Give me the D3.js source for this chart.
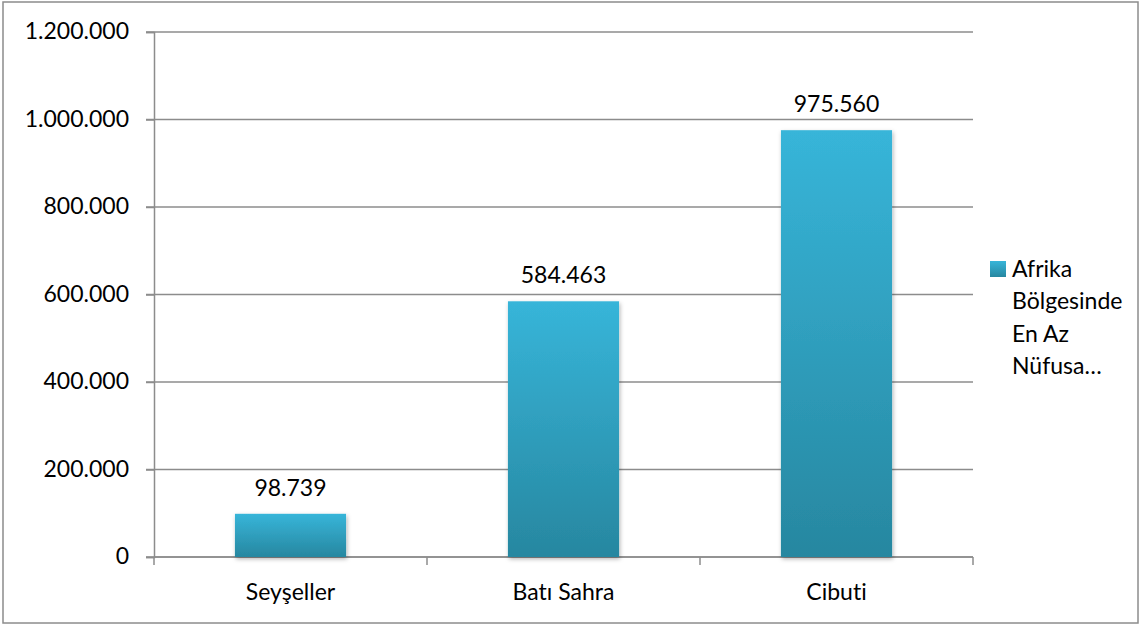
<!DOCTYPE html>
<html>
<head>
<meta charset="utf-8">
<script src="https://cdn.jsdelivr.net/npm/d3@7"></script>
<style>
  body { margin: 0; background: #fff; }
  text { font-family: Lato, "Open Sans", sans-serif; fill: #000; font-variant-ligatures: none; font-feature-settings: "liga" 0; }
</style>
</head>
<body>
<div id="chart"></div>
<script>
// Data
const categories = ["Seyşeller", "Batı Sahra", "Cibuti"];
const values = [98739, 584463, 975560];
const yTicks = [0, 200000, 400000, 600000, 800000, 1000000, 1200000];
const legendLines = ["Afrika", "Bölgesinde", "En Az", "Nüfusa…"];

const W = 1141, H = 625;
const margin = { top: 32, right: 168, bottom: 68, left: 154 },
    width = W - margin.left - margin.right,
    height = H - margin.top - margin.bottom;
const fontSize = 23;

const fmt = d3.formatLocale({ decimal: ",", thousands: ".", grouping: [3], currency: ["", ""] }).format(",d");

const root = d3.select("#chart").append("svg")
    .attr("width", W)
    .attr("height", H);

// gradient + shadow
const defs = root.append("defs");
const grad = defs.append("linearGradient")
    .attr("id", "barGrad")
    .attr("x1", 0).attr("y1", 0).attr("x2", 0).attr("y2", 1);
grad.append("stop").attr("offset", "0%").attr("stop-color", "#37b5d9");
grad.append("stop").attr("offset", "100%").attr("stop-color", "#2787a0");

const shadow = defs.append("filter").attr("id", "shadow")
    .attr("x", "-10%").attr("y", "-10%").attr("width", "130%").attr("height", "130%");
shadow.append("feDropShadow")
    .attr("dx", 1).attr("dy", 2).attr("stdDeviation", 2)
    .attr("flood-color", "#000").attr("flood-opacity", 0.3);

// outer frame
root.append("rect")
    .attr("x", 3).attr("y", 2)
    .attr("width", 1135).attr("height", 621)
    .attr("fill", "none")
    .attr("stroke", "#8c8c8c")
    .attr("stroke-width", 1.5);

const svg = root.append("g")
    .attr("transform", `translate(${margin.left},${margin.top})`);

const xScale = d3.scaleBand()
    .domain(categories)
    .range([0, width])
    .paddingInner(0.593)
    .paddingOuter(0.2965);

const yScale = d3.scaleLinear()
    .domain([0, 1200000])
    .range([height, 0]);

// gridlines
svg.append("g")
    .selectAll("line")
    .data(yTicks)
    .enter().append("line")
    .attr("x1", -8)
    .attr("x2", width)
    .attr("y1", d => yScale(d))
    .attr("y2", d => yScale(d))
    .attr("stroke", "#8c8c8c")
    .attr("stroke-width", 1.5);

// y axis
const yAxis = svg.append("g")
    .call(d3.axisLeft(yScale).tickValues(yTicks).tickFormat(fmt).tickSize(8).tickPadding(17));
yAxis.select(".domain").attr("stroke", "#8c8c8c").attr("stroke-width", 1.5);
yAxis.selectAll(".tick line").attr("stroke", "#8c8c8c").attr("stroke-width", 1.5);
yAxis.selectAll("text").attr("font-size", fontSize).attr("fill", "#000")
    .attr("font-family", "Lato, 'Open Sans', sans-serif").attr("dy", "0.3em");

// x axis: ticks at band boundaries
const xAxisG = svg.append("g")
    .attr("transform", `translate(0,${height})`);
xAxisG.append("line")
    .attr("x1", 0).attr("x2", width)
    .attr("stroke", "#8c8c8c").attr("stroke-width", 1.5);
const step = xScale.step();
xAxisG.selectAll(".xtick")
    .data(d3.range(categories.length + 1))
    .enter().append("line")
    .attr("class", "xtick")
    .attr("x1", i => xScale(categories[0]) - xScale.paddingOuter() * step + i * step)
    .attr("x2", i => xScale(categories[0]) - xScale.paddingOuter() * step + i * step)
    .attr("y1", 0).attr("y2", 8)
    .attr("stroke", "#8c8c8c").attr("stroke-width", 1.5);
xAxisG.selectAll(".xlabel")
    .data(categories)
    .enter().append("text")
    .attr("class", "xlabel")
    .attr("x", d => xScale(d) + xScale.bandwidth() / 2)
    .attr("y", 43)
    .attr("text-anchor", "middle")
    .attr("font-size", fontSize)
    .text(d => d);

// bars
svg.selectAll(".bar")
    .data(values)
    .enter().append("rect")
    .attr("class", "bar")
    .attr("x", (d, i) => xScale(categories[i]))
    .attr("y", d => yScale(d))
    .attr("width", xScale.bandwidth())
    .attr("height", d => height - yScale(d))
    .attr("fill", "url(#barGrad)")
    .attr("filter", "url(#shadow)");

// value labels
svg.selectAll(".val")
    .data(values)
    .enter().append("text")
    .attr("class", "val")
    .attr("x", (d, i) => xScale(categories[i]) + xScale.bandwidth() / 2)
    .attr("y", d => yScale(d) - 18)
    .attr("text-anchor", "middle")
    .attr("font-size", fontSize)
    .text(d => fmt(d));

// legend
const legend = root.append("g").attr("transform", "translate(990,261)");
legend.append("rect")
    .attr("width", 16).attr("height", 16)
    .attr("fill", "url(#barGrad)");
legend.selectAll("text")
    .data(legendLines)
    .enter().append("text")
    .attr("x", 22)
    .attr("y", (d, i) => 16 + i * 32.3)
    .attr("font-size", fontSize)
    .text(d => d);
</script>
</body>
</html>
